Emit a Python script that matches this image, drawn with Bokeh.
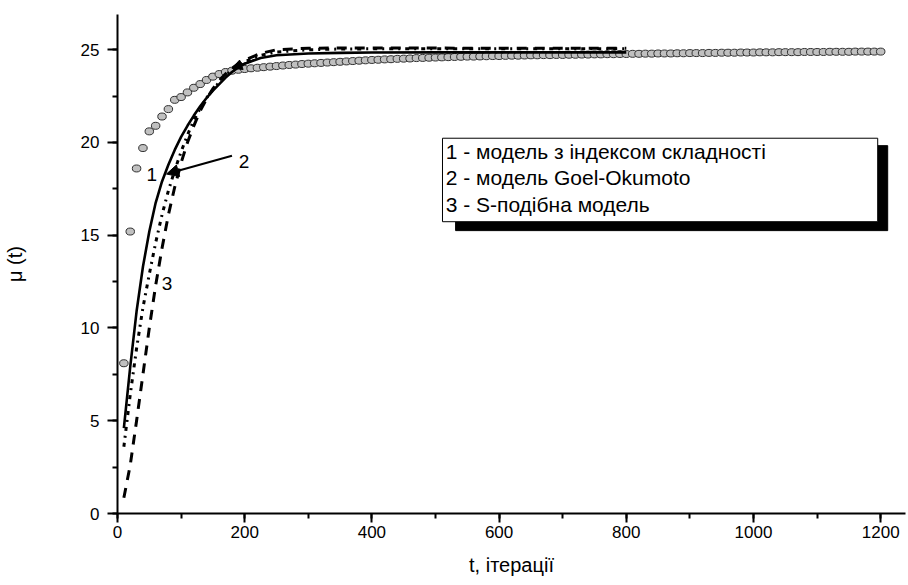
from bokeh.plotting import figure
from bokeh.models import Range1d, SingleIntervalTicker, Arrow, NormalHead
from bokeh.core.properties import value
from bokeh.embed import file_html
from bokeh.resources import INLINE

# observed points (t = 10 .. 1200, step 10)
t_obs = list(range(10, 1210, 10))
mu_obs = [
    8.1, 15.2, 18.6, 19.7, 20.6, 20.9, 21.4, 21.8, 22.3, 22.45,
    22.7, 22.95, 23.15, 23.37, 23.55, 23.69, 23.8, 23.87, 23.92, 23.96,
    24.0, 24.03, 24.06, 24.09, 24.12, 24.15, 24.18, 24.2, 24.23, 24.25,
    24.27, 24.29, 24.31, 24.33, 24.35, 24.37, 24.39, 24.41, 24.43, 24.45,
    24.46, 24.48, 24.49, 24.51, 24.52, 24.53, 24.55, 24.56, 24.57, 24.58,
    24.59, 24.6, 24.61, 24.62, 24.63, 24.63, 24.64, 24.65, 24.66, 24.66,
    24.67, 24.68, 24.68, 24.69, 24.7, 24.7, 24.71, 24.71, 24.72, 24.72,
    24.73, 24.73, 24.74, 24.74, 24.75, 24.75, 24.76, 24.76, 24.77, 24.77,
    24.78, 24.78, 24.79, 24.79, 24.8, 24.8, 24.8, 24.81, 24.81, 24.82,
    24.82, 24.82, 24.83, 24.83, 24.84, 24.84, 24.84, 24.85, 24.85, 24.85,
    24.86, 24.86, 24.86, 24.87, 24.87, 24.87, 24.87, 24.88, 24.88, 24.88,
    24.88, 24.89, 24.89, 24.89, 24.89, 24.9, 24.9, 24.9, 24.9, 24.9,
]

# model curves
t_model = [10, 20, 30, 40, 50, 60, 70, 80, 90, 100, 110, 120, 130, 140, 150,
           160, 170, 180, 190, 200, 225, 250, 300, 350, 400, 500, 600, 700, 800]
mu_model1 = [4.6, 7.9, 10.9, 13.3, 15.2, 16.75, 17.9, 18.8, 19.6, 20.3, 20.9,
             21.45, 21.95, 22.4, 22.8, 23.15, 23.5, 23.8, 24.05, 24.25, 24.55,
             24.7, 24.8, 24.83, 24.85, 24.86, 24.86, 24.86, 24.86]
mu_model2 = [3.6, 6.4, 8.9, 11.1, 12.9, 14.6, 16.1, 17.4, 18.5, 19.5, 20.4,
             21.2, 21.85, 22.4, 22.85, 23.25, 23.6, 23.9, 24.15, 24.35, 24.7,
             24.88, 25.0, 25.04, 25.05, 25.06, 25.06, 25.06, 25.06]
mu_model3 = [0.85, 2.6, 5.0, 7.5, 10.0, 12.3, 14.3, 16.1, 17.6, 18.9, 20.0,
             20.9, 21.7, 22.35, 22.9, 23.35, 23.7, 24.0, 24.25, 24.45, 24.8,
             25.0, 25.08, 25.1, 25.1, 25.09, 25.08, 25.08, 25.08]

legend_lines = ["1 - модель з індексом складності",
                "2 - модель Goel-Okumoto",
                "3 - S-подібна модель"]
x_title = "t, ітерації"
y_title = "μ (t)"

FONT = "Liberation Sans"

p = figure(width=908, height=585, output_backend="svg", toolbar_location=None,
           x_range=Range1d(0, 1239), y_range=Range1d(0, 26.9),
           min_border_left=117, min_border_right=3, min_border_top=14,
           min_border_bottom=72)
p.outline_line_color = None
p.grid.visible = False
p.background_fill_color = "white"
p.border_fill_color = "white"

p.xaxis.ticker = SingleIntervalTicker(interval=200, num_minor_ticks=2)
p.yaxis.ticker = SingleIntervalTicker(interval=5, num_minor_ticks=2)
for ax in (p.xaxis, p.yaxis):
    ax.axis_line_width = 2
    ax.axis_line_color = "black"
    ax.major_tick_line_width = 2
    ax.minor_tick_line_width = 2
    ax.major_tick_line_color = "black"
    ax.minor_tick_line_color = "black"
    ax.major_tick_in = 0
    ax.minor_tick_in = 0
    ax.major_tick_out = 10
    ax.minor_tick_out = 5
    ax.major_label_text_font = FONT
    ax.major_label_text_font_size = "17px"
    ax.major_label_text_color = "black"
    ax.axis_label_text_font = FONT
    ax.axis_label_text_font_size = "20px"
    ax.axis_label_text_font_style = "normal"
    ax.axis_label_text_color = "black"
p.xaxis.major_tick_out = 9
p.xaxis.major_label_standoff = 3
p.yaxis.major_label_standoff = 8
p.xaxis.axis_label = x_title
p.yaxis.axis_label = y_title
p.xaxis.axis_label_standoff = 13
p.yaxis.axis_label_standoff = 52

# observed points
p.ellipse(x=t_obs, y=mu_obs, width=8.5, height=7, width_units="screen",
          height_units="screen", fill_color="#c0c0c0", line_color="#303030",
          line_width=1)

# model curves
p.line(t_model, mu_model1, line_color="black", line_width=2.6)
p.line(t_model, mu_model2, line_color="black", line_width=3, line_dash="4 5 2 5")
p.line(t_model, mu_model3, line_color="black", line_width=3, line_dash="10 8")

# curve labels and arrows
p.text(x=[54, 199, 78], y=[18.3, 19.0, 12.4], text=["1", "2", "3"],
       text_font=value(FONT), text_font_size="19px", text_color="black",
       text_align="center", text_baseline="middle")
p.add_layout(Arrow(x_start=180, y_start=19.29, x_end=77, y_end=18.3,
                   line_width=2, line_color="black",
                   end=NormalHead(size=12, fill_color="black", line_color="black")))
p.add_layout(Arrow(x_start=215, y_start=24.45, x_end=180, y_end=24.0,
                   line_width=2, line_color="black",
                   end=NormalHead(size=10, fill_color="black", line_color="black")))

# legend box with shadow
p.quad(left=531.6, right=1211, bottom=15.25, top=19.83, fill_color="black", line_color="black")
p.quad(left=511, right=1195.3, bottom=15.73, top=20.23, fill_color="white",
       line_color="black", line_width=1)
p.text(x=[516, 516, 516], y=[19.53, 18.12, 16.64], text=legend_lines,
       text_font=value(FONT), text_font_size="21px", text_color="black",
       text_align="left", text_baseline="middle")

open("out.html", "w").write(file_html(p, INLINE))
